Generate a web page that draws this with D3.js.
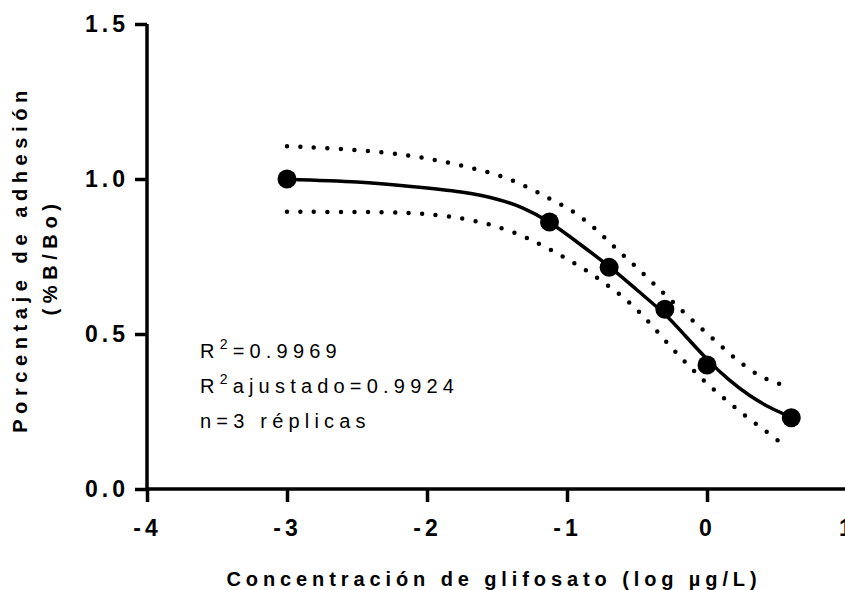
<!DOCTYPE html>
<html><head><meta charset="utf-8">
<script src="https://cdn.jsdelivr.net/npm/d3@7"></script>
<style>
body{margin:0;background:#fff;}
text{font-family:"Liberation Sans",Arial,sans-serif;}
</style></head>
<body><svg id="c" width="845" height="590"></svg>
<script>
// Data points (log concentration µg/L, B/Bo)
const pointX = [-3, -1.125, -0.699, -0.301, 0, 0.602];
const pointY = [1.0, 0.861, 0.715, 0.58, 0.40, 0.23];
// Fitted curve
const curveX = [-3, -2.5, -2.114, -1.757, -1.493, -1.314, -1.129, -0.914, -0.7, -0.5, -0.307, -0.157, 0, 0.15, 0.3, 0.45, 0.6];
const curveY = [0.999, 0.990, 0.976, 0.958, 0.934, 0.906, 0.861, 0.792, 0.718, 0.642, 0.566, 0.495, 0.419, 0.355, 0.303, 0.263, 0.232];
// Upper confidence band
const upperX = [-3, -2.5, -2.11, -1.757, -1.4, -1.1, -0.964, -0.807, -0.671, -0.529, -0.386, -0.25, -0.107, 0.036, 0.186, 0.336, 0.421, 0.53];
const upperY = [1.106, 1.095, 1.077, 1.045, 1.004, 0.93, 0.9, 0.845, 0.784, 0.726, 0.665, 0.605, 0.545, 0.487, 0.426, 0.374, 0.355, 0.337];
// Lower confidence band
const lowerX = [-3, -2.5, -2.11, -1.757, -1.443, -1.186, -1.014, -0.85, -0.693, -0.543, -0.407, -0.279, -0.143, -0.007, 0.143, 0.293, 0.45, 0.53];
const lowerY = [0.894, 0.894, 0.892, 0.877, 0.842, 0.79, 0.745, 0.703, 0.652, 0.6, 0.535, 0.468, 0.403, 0.342, 0.284, 0.229, 0.177, 0.148];
const xTicks = [-4, -3, -2, -1, 0, 1];
const yTicks = [0.0, 0.5, 1.0, 1.5];
const annotations = ["R²=0.9969", "R²ajustado=0.9924", "n=3 réplicas"];

const svg = d3.select("#c");
const x = d3.scaleLinear().domain([-4, 1]).range([147, 847]);
const y = d3.scaleLinear().domain([0, 1.5]).range([489, 24]);

const zip = (a, b) => a.map((v, i) => [v, b[i]]);
const line = d3.line().x(d => x(d[0])).y(d => y(d[1])).curve(d3.curveBasis);
const fitLine = d3.line().x(d => x(d[0])).y(d => y(d[1])).curve(d3.curveNatural);

// confidence bands
[zip(upperX, upperY), zip(lowerX, lowerY)].forEach(d => {
  svg.append("path").attr("d", line(d)).attr("fill", "none").attr("stroke", "#000")
    .attr("stroke-width", 4.5).attr("stroke-linecap", "round").attr("stroke-dasharray", "0,13.5");
});
// fit curve
svg.append("path").attr("d", fitLine(zip(curveX, curveY))).attr("fill", "none")
  .attr("stroke", "#000").attr("stroke-width", 3.5);
// points
svg.selectAll("circle.pt").data(zip(pointX, pointY)).enter().append("circle")
  .attr("cx", d => x(d[0])).attr("cy", d => y(d[1])).attr("r", 9.5).attr("fill", "#000");

// axes
const xAxis = d3.axisBottom(x).tickValues(xTicks).tickFormat(d => String(d)).tickSize(13).tickPadding(18);
const gx = svg.append("g").attr("transform", "translate(0,489)").call(xAxis);
const yAxis = d3.axisLeft(y).tickValues(yTicks).tickFormat(d3.format(".1f")).tickSize(12).tickPadding(10);
const gy = svg.append("g").attr("transform", "translate(147,0)").call(yAxis);
[gx, gy].forEach(g => {
  g.select(".domain").attr("stroke-width", 3.5).attr("stroke", "#000");
  g.selectAll(".tick line").attr("stroke-width", 3.5).attr("stroke", "#000");
  g.selectAll(".tick text").attr("font-family", "Liberation Sans, Arial, sans-serif")
    .attr("font-weight", "bold").attr("font-size", 23).attr("fill", "#000").style("letter-spacing", "4px");
});
gx.select(".domain").attr("d", "M147,0H847");
gy.select(".domain").attr("d", "M0,24V489");
gy.selectAll(".tick text").attr("dx", 4);
gx.selectAll(".tick text").attr("dx", 0);

// axis titles
svg.append("text").attr("x", 494).attr("y", 586).attr("text-anchor", "middle")
  .attr("font-weight", "bold").attr("font-size", 20).style("letter-spacing", "4.9px")
  .text("Concentración de glifosato (log µg/L)");
svg.append("text").attr("transform", "translate(27,259) rotate(-90)").attr("text-anchor", "middle")
  .attr("font-weight", "bold").attr("font-size", 20).style("letter-spacing", "5.6px")
  .text("Porcentaje de adhesión");
svg.append("text").attr("transform", "translate(57,257) rotate(-90)").attr("text-anchor", "middle")
  .attr("font-weight", "bold").attr("font-size", 20).style("letter-spacing", "5.6px")
  .text("(%B/Bo)");

// annotations
const ann = svg.append("g");
annotations.forEach((t, i) => {
  const tx = ann.append("text").attr("x", 200).attr("y", 358 + i * 35)
    .attr("font-size", 20).style("letter-spacing", "5.2px").attr("fill", "#000");
  if (t.startsWith("R²")) {
    tx.append("tspan").text("R");
    tx.append("tspan").attr("dy", -9).attr("font-size", 14).text("2");
    tx.append("tspan").attr("dy", 9).text(t.slice(2));
  } else tx.text(t);
});
</script></body></html>
